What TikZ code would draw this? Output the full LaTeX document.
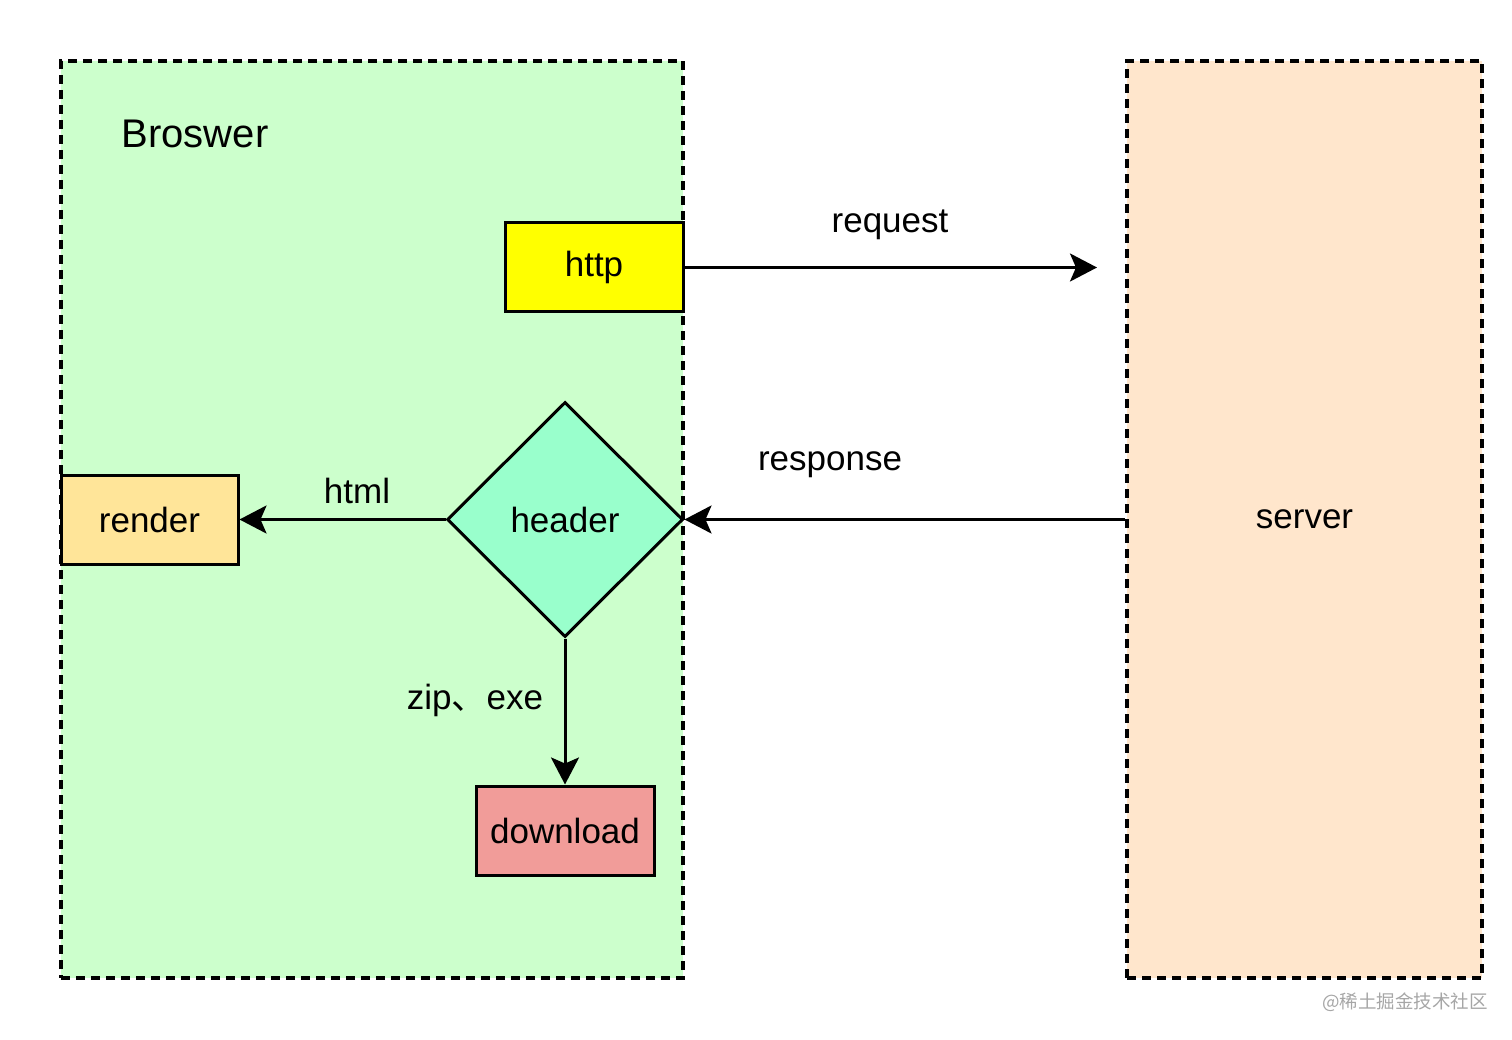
\documentclass[tikz,border=0pt]{standalone}
\usepackage{fontspec}
\setmainfont{Liberation Sans}
\newfontfamily\cjk{Noto Sans CJK SC}
\usetikzlibrary{shapes.geometric,arrows.meta}
\definecolor{brgreen}{HTML}{CCFFCC}
\definecolor{srvorange}{HTML}{FFE6CC}
\definecolor{httpyellow}{HTML}{FFFF00}
\definecolor{renderyellow}{HTML}{FFE599}
\definecolor{headergreen}{HTML}{99FFCC}
\definecolor{dlred}{HTML}{F19C99}
\tikzset{
  lw/.style={line width=3pt},
  area/.style={draw, line width=3.2pt, dash pattern=on 9pt off 6pt, inner sep=0pt, font=\fontsize{35}{40}\selectfont},
  boxnode/.style={draw, lw, rectangle, minimum width=178pt, minimum height=89pt, inner sep=0pt, font=\fontsize{35}{40}\selectfont},
  lbl/.style={font=\fontsize{35}{40}\selectfont, inner sep=0pt},
  conn/.style={lw, -{Stealth[length=27pt, width=28pt, inset=6pt]}},
}
\begin{document}
\begin{tikzpicture}[x=1pt,y=-1pt]
\useasboundingbox (0,0) rectangle (1512,1040);
\node[area, fill=brgreen, minimum width=622pt, minimum height=917pt] (browser) at (372,519.5) {};
\node[area, fill=srvorange, minimum width=355pt, minimum height=917pt] (server) at (1304.5,519.5) {server};
\node[lbl, font=\fontsize{40}{46}\selectfont] (title) at (195,134) {Broswer};
\node[boxnode, fill=httpyellow] (http) at (594,267.5) {http};
\node[boxnode, fill=renderyellow, minimum width=177pt] (render) at (149.5,519.5) {render};
\node[boxnode, fill=dlred] (download) at (565,830.5) {download};
\node[draw, lw, diamond, fill=headergreen, minimum width=236pt, minimum height=235pt, inner sep=0pt, font=\fontsize{35}{40}\selectfont] (header) at (565,519.5) {header};
\coordinate (reqend) at (1097,267.5);
\draw[conn] (http.east) -- (reqend);
\draw[conn] (server.west) -- (header.east);
\draw[conn] (header.west) -- (render.east);
\draw[conn] (header.south) -- (download.north);
\node[lbl] (request) at (890,225) {request};
\node[lbl] (response) at (830,465) {response};
\node[lbl] (html) at (357,491) {html};
\node[lbl] (zipexe) at (475,700) {zip{\cjk 、}exe};
\node[inner sep=0pt, text=black!35, font=\cjk\fontsize{18.5}{22}\selectfont] (wm) at (1405,1002) {@稀土掘金技术社区};
\end{tikzpicture}
\end{document}
